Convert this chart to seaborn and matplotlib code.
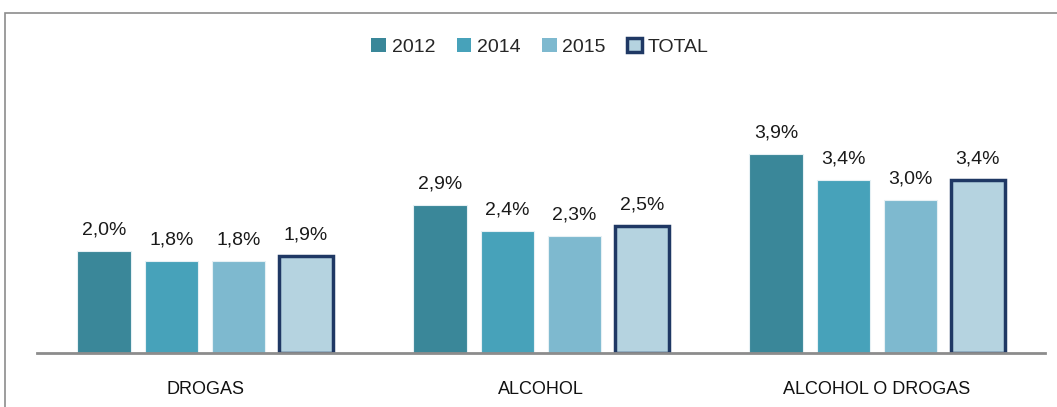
import matplotlib
matplotlib.use("Agg")
import matplotlib.pyplot as plt
import seaborn as sns
import pandas as pd
from matplotlib.patches import Patch, Rectangle

categories = ["DROGAS", "ALCOHOL", "ALCOHOL O DROGAS"]
series = ["2012", "2014", "2015", "TOTAL"]
v2012 = [2.0, 2.9, 3.9]
v2014 = [1.8, 2.4, 3.4]
v2015 = [1.8, 2.3, 3.0]
vtotal = [1.9, 2.5, 3.4]

colors = ["#3A8799", "#47A2BA", "#7EB9CF", "#B5D3E0"]
edge_total = "#1F3864"

rows = []
for s, vals in zip(series, [v2012, v2014, v2015, vtotal]):
    for c, v in zip(categories, vals):
        rows.append({"cat": c, "serie": s, "val": v})
df = pd.DataFrame(rows)

sns.set_theme(style="white")
plt.rcParams["font.family"] = ["Liberation Sans", "DejaVu Sans"]

fig = plt.figure(figsize=(10.57, 4.07), dpi=100)
ax = fig.add_axes([37/1057, 1 - 353/407, (1045-37)/1057, (353-98)/407])

sns.barplot(data=df, x="cat", y="val", hue="serie", order=categories,
            hue_order=series, palette=colors, width=0.8, gap=0.2,
            ax=ax, legend=False, errorbar=None, saturation=1)

for i, cont in enumerate(ax.containers):
    for bar in cont:
        if series[i] == "TOTAL":
            bar.set_edgecolor(edge_total)
            bar.set_linewidth(2.5)
        else:
            bar.set_edgecolor("#E6F0F4")
            bar.set_linewidth(0.8)
    ax.bar_label(cont, labels=[f"{v:.1f}%".replace(".", ",") for v in cont.datavalues],
                 padding=9, fontsize=14, color="#1A1A1A")

ax.set_ylim(0, 5)
ax.set_xlim(-0.5, 2.5)
ax.set_xlabel("")
ax.set_ylabel("")
ax.set_yticks([])
for s in ["top", "right", "left"]:
    ax.spines[s].set_visible(False)
ax.spines["bottom"].set_color("#8C8C8C")
ax.spines["bottom"].set_linewidth(2)
ax.tick_params(axis="x", length=0, pad=20, labelsize=13, colors="#111111")

handles = []
for s, c in zip(series, colors):
    if s == "TOTAL":
        handles.append(Patch(facecolor=c, edgecolor=edge_total, linewidth=2.5, label=s))
    else:
        handles.append(Patch(facecolor=c, edgecolor="none", label=s))
fig.legend(handles=handles, loc="center", bbox_to_anchor=(540/1057, 1 - 47/407),
           ncol=4, frameon=False, fontsize=14, handlelength=0.75, handleheight=0.75,
           handletextpad=0.3, columnspacing=1.1)

fig.patches.append(Rectangle((5/1057, -0.1), 1.2, 1 - 13/407 + 0.1,
                             transform=fig.transFigure, fill=False,
                             edgecolor="#8C8C8C", linewidth=1.2))

fig.savefig("out.png", dpi=100)
